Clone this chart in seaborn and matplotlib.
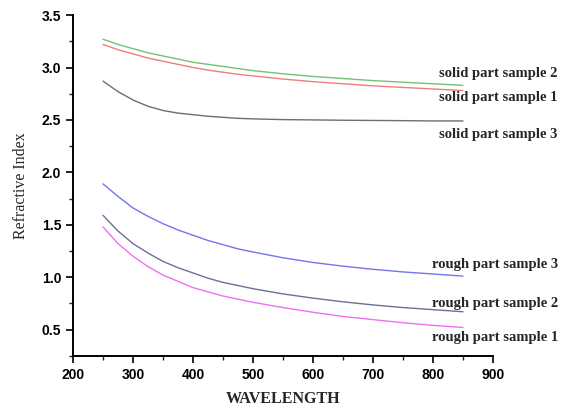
import matplotlib
matplotlib.use("Agg")
import matplotlib.pyplot as plt
import seaborn as sns
import pandas as pd
from matplotlib.ticker import MultipleLocator

wavelength = [250, 275, 300, 325, 350, 375, 400, 425, 450, 475, 500, 550, 600, 650, 700, 750, 800, 850]
solid2 = [3.27, 3.22, 3.18, 3.14, 3.11, 3.08, 3.05, 3.03, 3.01, 2.99, 2.97, 2.94, 2.915, 2.895, 2.875, 2.86, 2.845, 2.83]
solid1 = [3.22, 3.17, 3.13, 3.09, 3.06, 3.03, 3.00, 2.975, 2.955, 2.935, 2.92, 2.89, 2.865, 2.845, 2.825, 2.81, 2.795, 2.78]
solid3 = [2.87, 2.77, 2.69, 2.63, 2.59, 2.565, 2.55, 2.535, 2.525, 2.515, 2.51, 2.503, 2.50, 2.497, 2.495, 2.493, 2.49, 2.49]
rough3 = [1.89, 1.77, 1.66, 1.58, 1.51, 1.45, 1.40, 1.35, 1.31, 1.27, 1.24, 1.185, 1.14, 1.105, 1.075, 1.05, 1.03, 1.01]
rough2 = [1.59, 1.44, 1.32, 1.23, 1.15, 1.09, 1.04, 0.99, 0.95, 0.92, 0.89, 0.84, 0.80, 0.765, 0.735, 0.71, 0.69, 0.67]
rough1 = [1.48, 1.32, 1.20, 1.10, 1.02, 0.96, 0.90, 0.86, 0.82, 0.79, 0.76, 0.71, 0.665, 0.625, 0.595, 0.565, 0.54, 0.52]

series = {
    "solid part sample 2": solid2,
    "solid part sample 1": solid1,
    "solid part sample 3": solid3,
    "rough part sample 3": rough3,
    "rough part sample 2": rough2,
    "rough part sample 1": rough1,
}
colors = {
    "solid part sample 2": "#74c174",
    "solid part sample 1": "#f07c7c",
    "solid part sample 3": "#6e6e6e",
    "rough part sample 3": "#7474ee",
    "rough part sample 2": "#6e6e96",
    "rough part sample 1": "#f070f0",
}
label_y = {
    "solid part sample 2": 2.945,
    "solid part sample 1": 2.71,
    "solid part sample 3": 2.36,
    "rough part sample 3": 1.12,
    "rough part sample 2": 0.75,
    "rough part sample 1": 0.42,
}

rows = []
for name, vals in series.items():
    for w, v in zip(wavelength, vals):
        rows.append({"wavelength": w, "n": v, "sample": name})
df = pd.DataFrame(rows)

sns.set_theme(style="ticks")
fig = plt.figure(figsize=(5.66, 4.08), dpi=100)
ax = fig.add_axes([0.129, 0.128, 0.742, 0.835])
sns.lineplot(data=df, x="wavelength", y="n", hue="sample", palette=colors,
             ax=ax, legend=False, linewidth=1.0)

ax.set_xlim(200, 900)
ax.set_ylim(0.25, 3.5)
ax.xaxis.set_major_locator(MultipleLocator(100))
ax.xaxis.set_minor_locator(MultipleLocator(50))
ax.yaxis.set_minor_locator(MultipleLocator(0.25))
ax.set_yticks([0.5, 1.0, 1.5, 2.0, 2.5, 3.0, 3.5])
ax.tick_params(which="major", length=5, width=1.2, direction="out", labelsize=10, colors="black")
ax.tick_params(which="minor", length=3, width=1.0, direction="out")
for lab in ax.get_xticklabels() + ax.get_yticklabels():
    lab.set_fontweight("bold")
    lab.set_family("Liberation Sans")
for s in ["top", "right"]:
    ax.spines[s].set_visible(False)
for s in ["left", "bottom"]:
    ax.spines[s].set_linewidth(1.4)
    ax.spines[s].set_color("black")

ax.set_xlabel("WAVELENGTH", family="Liberation Serif", fontsize=11.5, fontweight="bold", labelpad=7)
ax.set_ylabel("Refractive Index", family="Liberation Serif", fontsize=11.5, labelpad=9)

for name, yv in label_y.items():
    ax.text(1008, yv, name, ha="right", va="center", family="Liberation Serif",
            fontsize=10.5, fontweight="bold", clip_on=False)

fig.savefig("out.png", dpi=100, facecolor="white")
